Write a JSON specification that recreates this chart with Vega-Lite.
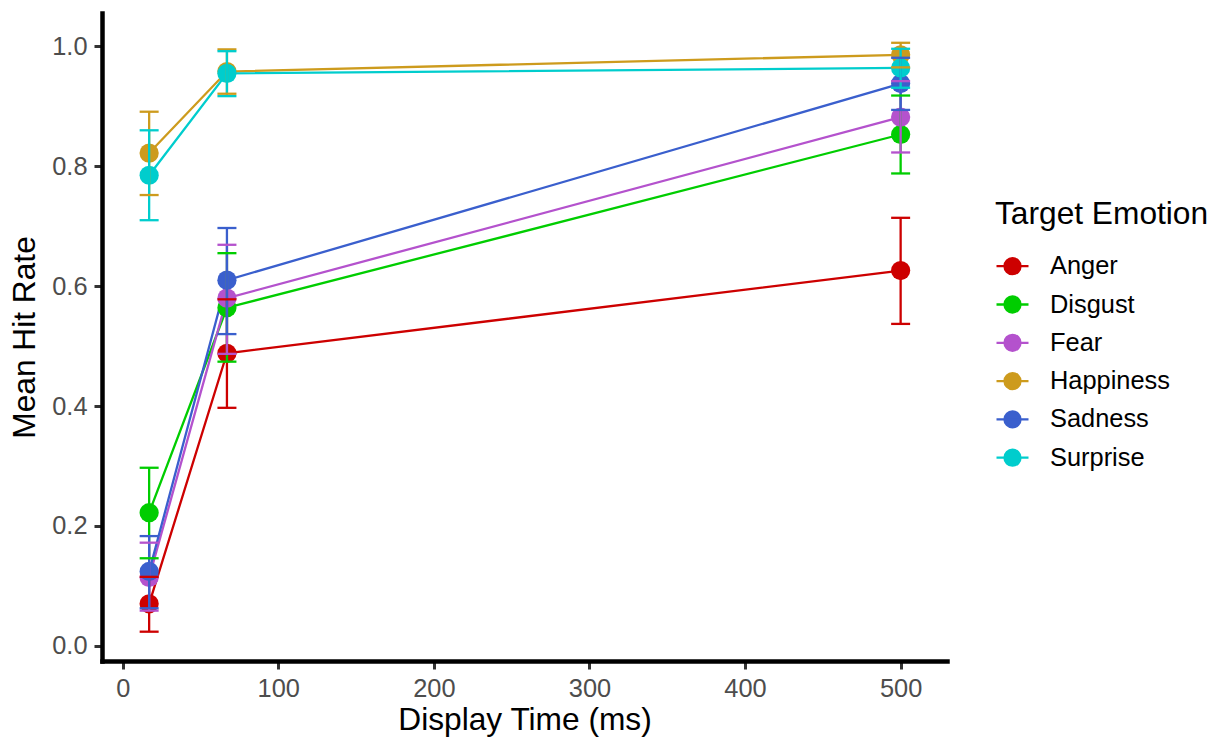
{
  "$schema": "https://vega.github.io/schema/vega-lite/v6.json",
  "width": 845,
  "height": 648,
  "autosize": "none",
  "padding": {"left": 102, "top": 13, "right": 269, "bottom": 77},
  "background": "white",
  "config": {
    "view": {"stroke": null},
    "axis": {
      "grid": false,
      "domainColor": "black",
      "domainWidth": 4.5,
      "domainCap": "square",
      "tickColor": "#333333",
      "tickWidth": 3,
      "tickSize": 8,
      "labelFont": "Liberation Sans",
      "labelFontSize": 25.4,
      "labelColor": "#4d4d4d",
      "labelPadding": 7,
      "titleFont": "Liberation Sans",
      "titleFontSize": 31.7,
      "titleFontWeight": "normal",
      "titleColor": "black"
    }
  },
  "data": {
    "values": [
      {"emotion": "Anger", "time": 17, "mean": 0.070, "lo": 0.0235, "hi": 0.115},
      {"emotion": "Anger", "time": 67, "mean": 0.488, "lo": 0.397, "hi": 0.578},
      {"emotion": "Anger", "time": 500, "mean": 0.626, "lo": 0.537, "hi": 0.714},
      {"emotion": "Disgust", "time": 17, "mean": 0.222, "lo": 0.146, "hi": 0.297},
      {"emotion": "Disgust", "time": 67, "mean": 0.564, "lo": 0.474, "hi": 0.655},
      {"emotion": "Disgust", "time": 500, "mean": 0.853, "lo": 0.788, "hi": 0.918},
      {"emotion": "Fear", "time": 17, "mean": 0.114, "lo": 0.0586, "hi": 0.172},
      {"emotion": "Fear", "time": 67, "mean": 0.580, "lo": 0.487, "hi": 0.669},
      {"emotion": "Fear", "time": 500, "mean": 0.882, "lo": 0.823, "hi": 0.942},
      {"emotion": "Happiness", "time": 17, "mean": 0.822, "lo": 0.752, "hi": 0.891},
      {"emotion": "Happiness", "time": 67, "mean": 0.958, "lo": 0.921, "hi": 0.995},
      {"emotion": "Happiness", "time": 500, "mean": 0.986, "lo": 0.965, "hi": 1.006},
      {"emotion": "Sadness", "time": 17, "mean": 0.124, "lo": 0.0626, "hi": 0.183},
      {"emotion": "Sadness", "time": 67, "mean": 0.610, "lo": 0.520, "hi": 0.697},
      {"emotion": "Sadness", "time": 500, "mean": 0.938, "lo": 0.894, "hi": 0.981},
      {"emotion": "Surprise", "time": 17, "mean": 0.785, "lo": 0.710, "hi": 0.860},
      {"emotion": "Surprise", "time": 67, "mean": 0.955, "lo": 0.917, "hi": 0.992},
      {"emotion": "Surprise", "time": 500, "mean": 0.964, "lo": 0.931, "hi": 0.996}
    ]
  },
  "encoding": {
    "x": {
      "field": "time",
      "type": "quantitative",
      "title": "Display Time (ms)",
      "scale": {"domain": [-13.3, 529.8], "nice": false, "zero": false},
      "axis": {"values": [0, 100, 200, 300, 400, 500], "titlePadding": 3}
    },
    "color": {
      "field": "emotion",
      "type": "nominal",
      "scale": {
        "domain": ["Anger", "Disgust", "Fear", "Happiness", "Sadness", "Surprise"],
        "range": ["#CD0000", "#00CD00", "#B452CD", "#CD9B1D", "#3A5FCD", "#00CDCD"]
      },
      "legend": {
        "title": "Target Emotion",
        "orient": "none",
        "legendX": 893,
        "legendY": 186,
        "titleFont": "Liberation Sans",
        "titleFontSize": 31.7,
        "titleFontWeight": "normal",
        "titleColor": "black",
        "titlePadding": 18,
        "titleLimit": 500,
        "labelLimit": 400,
        "labelFont": "Liberation Sans",
        "labelFontSize": 25.4,
        "labelColor": "black",
        "labelOffset": 20,
        "symbolType": "M-1,0L1,0M0.5,0A0.5,0.5,0,1,1,-0.5,0A0.5,0.5,0,1,1,0.5,0Z",
        "symbolSize": 1024,
        "symbolStrokeWidth": 2.3,
        "rowPadding": 7.3,
        "encode": {
          "symbols": {
            "update": {
              "fill": {"scale": "color", "field": "value"},
              "stroke": {"scale": "color", "field": "value"},
              "opacity": {"value": 1},
              "fillOpacity": {"value": 1},
              "strokeOpacity": {"value": 1}
            }
          }
        }
      }
    }
  },
  "layer": [
    {
      "mark": {"type": "line", "strokeWidth": 2.3},
      "encoding": {
        "y": {
          "field": "mean",
          "type": "quantitative",
          "title": "Mean Hit Rate",
          "scale": {"domain": [-0.0254, 1.0557], "nice": false, "zero": false},
          "axis": {"values": [0, 0.2, 0.4, 0.6, 0.8, 1.0], "format": ".1f", "titlePadding": 10}
        }
      }
    },
    {
      "mark": {"type": "point", "filled": true, "size": 370, "opacity": 1},
      "encoding": {
        "y": {"field": "mean", "type": "quantitative", "title": "Mean Hit Rate"}
      }
    },
    {
      "mark": {"type": "rule", "strokeWidth": 2.3},
      "encoding": {
        "y": {"field": "lo", "type": "quantitative", "title": "Mean Hit Rate"},
        "y2": {"field": "hi"}
      }
    },
    {
      "mark": {"type": "tick", "orient": "horizontal", "size": 19, "thickness": 2.3, "opacity": 1},
      "encoding": {
        "y": {"field": "lo", "type": "quantitative", "title": "Mean Hit Rate"}
      }
    },
    {
      "mark": {"type": "tick", "orient": "horizontal", "size": 19, "thickness": 2.3, "opacity": 1},
      "encoding": {
        "y": {"field": "hi", "type": "quantitative", "title": "Mean Hit Rate"}
      }
    }
  ]
}
